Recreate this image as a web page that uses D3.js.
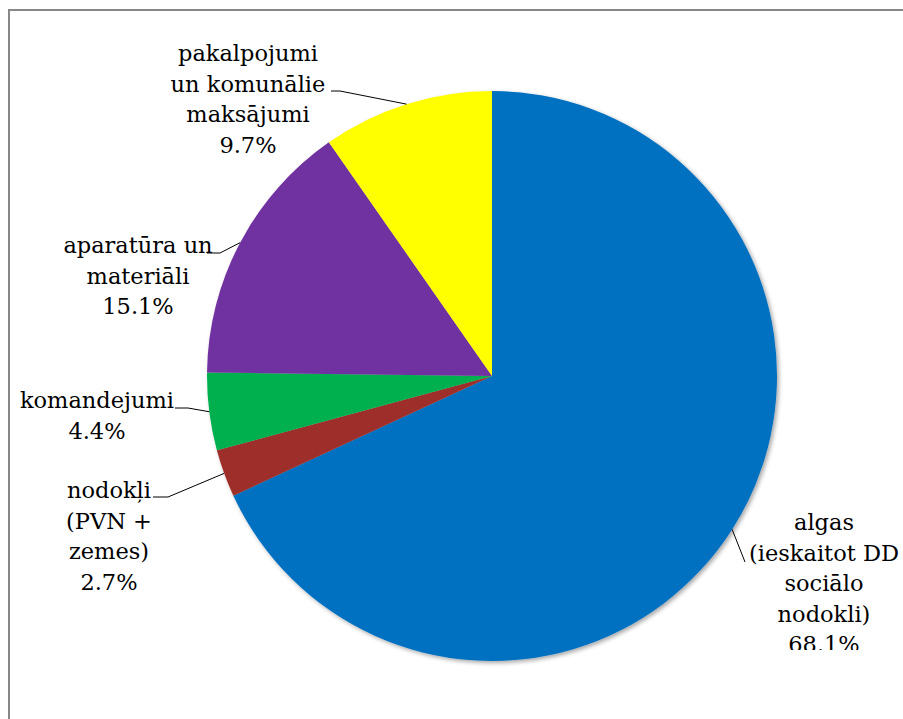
<!DOCTYPE html>
<html><head><meta charset="utf-8">
<script src="https://cdn.jsdelivr.net/npm/d3@7"></script>
<style>body{margin:0;background:#fff}svg{display:block}</style>
</head><body>
<script>
// data
const categories = ["algas (ieskaitot DD sociālo nodokli)", "nodokļi (PVN + zemes)", "komandejumi", "aparatūra un materiāli", "pakalpojumi un komunālie maksājumi"];
const values = [68.1, 2.7, 4.4, 15.1, 9.7];
const labelLines = [
  ["algas", "(ieskaitot DD", "sociālo", "nodokli)"],
  ["nodokļi", "(PVN +", "zemes)"],
  ["komandejumi"],
  ["aparatūra un", "materiāli"],
  ["pakalpojumi", "un komunālie", "maksājumi"]
];
const colors = ["#0070C0", "url(#redGrad)", "#00B050", "#7030A0", "#FFFF00"];
// label layout: text centre x, first baseline y, elbow point, line end
const labelLayout = [
  {x: 824, y: 530, ex: 745, ey: 562, hx: 745},
  {x: 109, y: 498, ex: 168, ey: 497, hx: 153},
  {x: 97,  y: 408, ex: 188, ey: 408, hx: 175},
  {x: 138, y: 253, ex: 220, ey: 253, hx: 207},
  {x: 248, y: 61,  ex: 340, ey: 91,  hx: 331}
];

const W = 903, H = 719, cx = 492, cy = 376, R = 285, LH = 30.5;
const svg = d3.select("body").append("svg").attr("width", W).attr("height", H);
const defs = svg.append("defs");
const rg = defs.append("radialGradient").attr("id", "redGrad")
  .attr("gradientUnits", "userSpaceOnUse").attr("cx", cx).attr("cy", cy).attr("r", R);
rg.append("stop").attr("offset", "0").attr("stop-color", "#C44541");
rg.append("stop").attr("offset", "1").attr("stop-color", "#9E2D29");
const f = defs.append("filter").attr("id", "sh").attr("x", "-10%").attr("y", "-10%").attr("width", "130%").attr("height", "130%");
f.append("feDropShadow").attr("dx", 2).attr("dy", 2).attr("stdDeviation", 2).attr("flood-color", "#000").attr("flood-opacity", 0.35);
defs.append("clipPath").attr("id", "clip").append("rect").attr("x", 0).attr("y", 0).attr("width", W).attr("height", 650);

svg.append("rect").attr("x", 9).attr("y", 10).attr("width", 1000).attr("height", 1000)
  .attr("fill", "none").attr("stroke", "#878787").attr("stroke-width", 2);

const pie = d3.pie().sort(null).value(d => d)(values);
const arc = d3.arc().innerRadius(0).outerRadius(R);
const g = svg.append("g").attr("transform", `translate(${cx},${cy})`);
g.append("g").attr("filter", "url(#sh)").selectAll("path").data(pie).join("path")
  .attr("d", arc).attr("fill", (d, i) => colors[i]);

const fmt = d3.format(".1f");
const lab = svg.append("g").attr("clip-path", "url(#clip)");
pie.forEach((d, i) => {
  const a = (d.startAngle + d.endAngle) / 2;
  const px = cx + R * Math.sin(a), py = cy - R * Math.cos(a);
  const L = labelLayout[i];
  lab.append("polyline")
    .attr("points", `${px},${py} ${L.ex},${L.ey} ${L.hx},${L.ey}`)
    .attr("fill", "none").attr("stroke", "#000").attr("stroke-width", 1);
  const lines = labelLines[i].concat([fmt(values[i]) + "%"]);
  const t = lab.append("text").attr("text-anchor", "middle")
    .style("font-family", "'DejaVu Serif', serif")
    .attr("font-size", 22.5).attr("fill", "#000");
  lines.forEach((s, k) => t.append("tspan").attr("x", L.x).attr("y", L.y + k * LH).text(s));
});
</script>
</body></html>
